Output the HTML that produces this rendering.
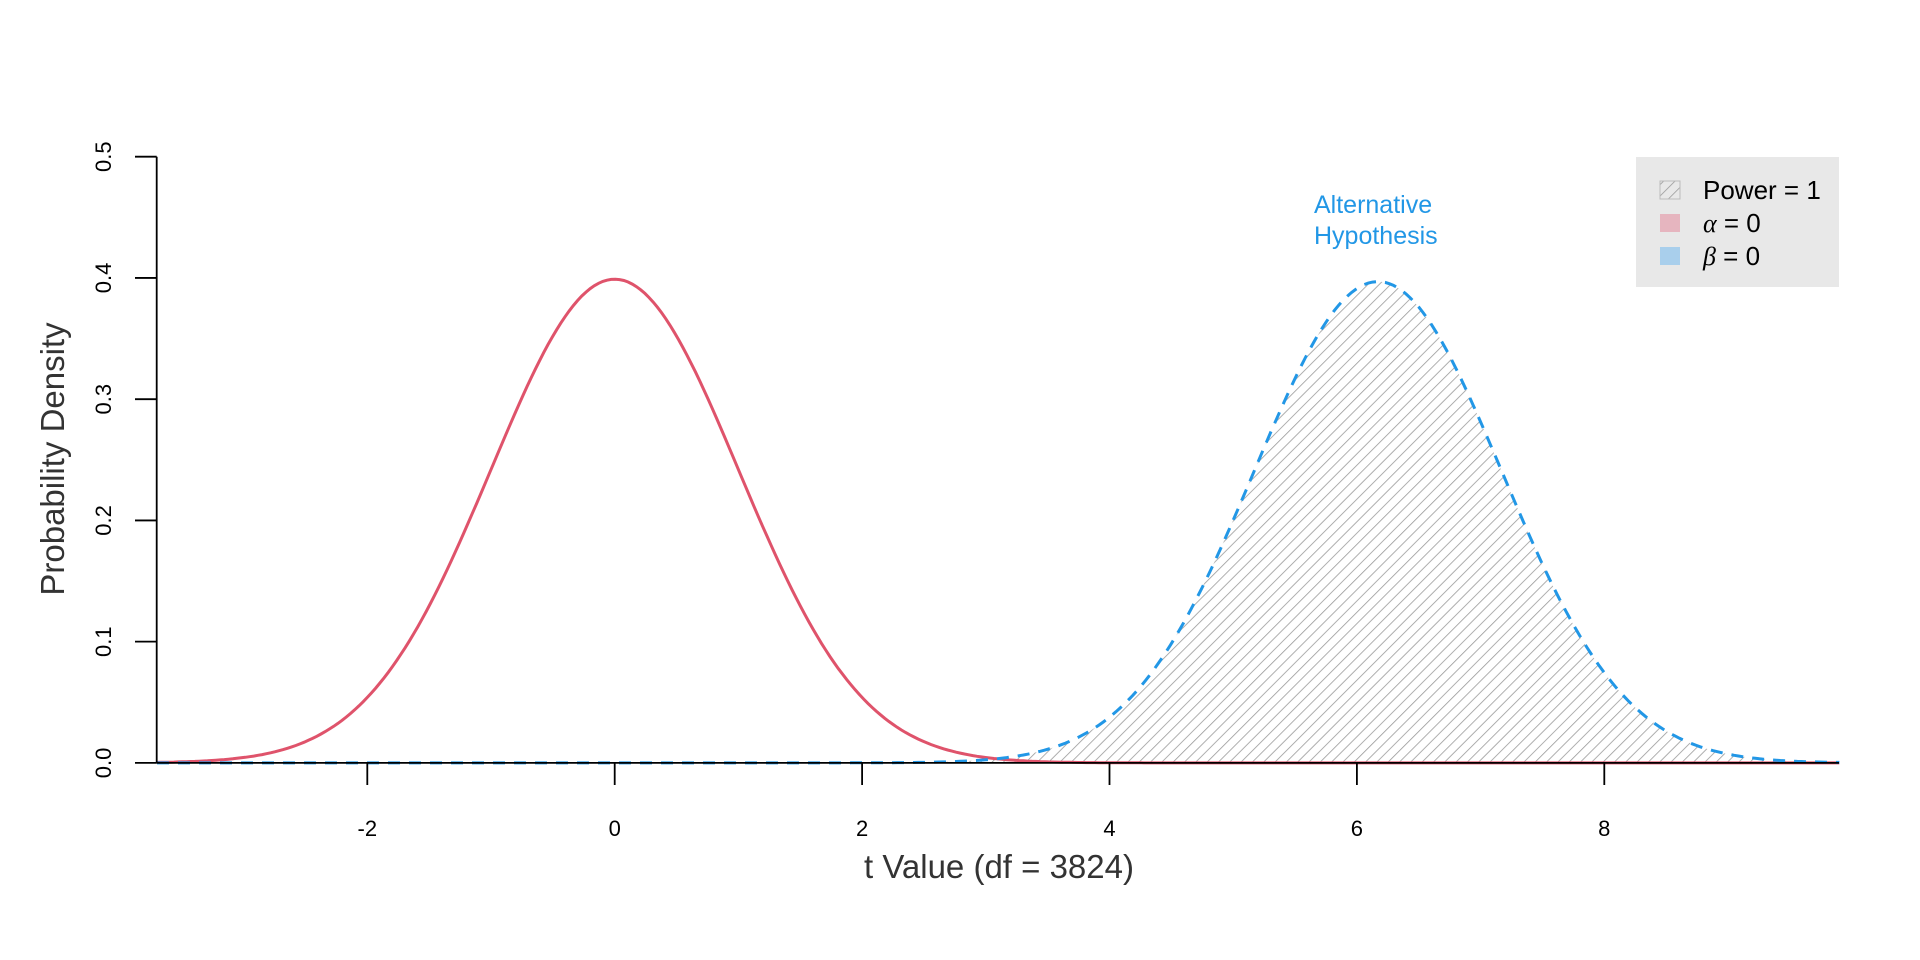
<!DOCTYPE html>
<html><head><meta charset="utf-8"><style>
html,body{margin:0;padding:0;background:#fff;}
svg{display:block;font-family:"Liberation Sans",sans-serif;}
</style></head><body>
<svg id="s" width="1920" height="960" viewBox="0 0 1920 960" xmlns="http://www.w3.org/2000/svg">
<defs>
<pattern id="h" patternUnits="userSpaceOnUse" width="8" height="8" patternTransform="rotate(45)">
<line x1="0" y1="0" x2="0" y2="8" stroke="#9a9a9a" stroke-width="1.6"/>
</pattern>
</defs>
<path id="hatch" fill="url(#h)" stroke="none"/>
<path id="red" fill="none" stroke="#df536b" stroke-width="3"/>
<path id="blue" fill="none" stroke="#2297e6" stroke-width="3" stroke-dasharray="12,9"/>
<g stroke="#000" stroke-width="1.8" fill="none">
<line x1="156.7" y1="156.7" x2="156.7" y2="762.9"/>
<line x1="156.7" y1="762.9" x2="1839" y2="762.9"/>
</g>
<g id="ticks" stroke="#000" stroke-width="1.8"></g>
<g id="labels" font-size="22" fill="#000"></g>
<text x="999" y="878" font-size="33" fill="#333" text-anchor="middle">t Value (df = 3824)</text>
<text transform="translate(64,459) rotate(-90)" font-size="33" fill="#333" text-anchor="middle">Probability Density</text>
<text x="1314" y="213" font-size="25" fill="#2297e6">Alternative</text>
<text x="1314" y="244" font-size="25" fill="#2297e6">Hypothesis</text>
<rect x="1636" y="157" width="203" height="130" fill="#e8e8e8"/>
<rect x="1660" y="181" width="20" height="18" fill="url(#h)" stroke="#bbb" stroke-width="1"/>
<rect x="1660" y="214" width="20" height="18" fill="#e6b5bf"/>
<rect x="1660" y="247" width="20" height="18" fill="#a9cfec"/>
<text x="1703" y="199" font-size="26">Power = 1</text>
<text x="1703" y="232" font-size="26"><tspan font-style="italic" font-family="Liberation Serif">α</tspan> = 0</text>
<text x="1703" y="265" font-size="26"><tspan font-style="italic" font-family="Liberation Serif">β</tspan> = 0</text>
</svg>
<script>
var X0=614.7,SX=123.7,Y0=762.9,SY=1212.4;
function px(t){return X0+t*SX}function py(d){return Y0-d*SY}
function n(t,m){return Math.exp(-(t-m)*(t-m)/2)/Math.sqrt(2*Math.PI)}
var tmin=-3.7,tmax=9.9,r="",b="",hp="";
for(var i=0;i<=400;i++){var t=tmin+(tmax-tmin)*i/400;
r+=(i?"L":"M")+px(t).toFixed(1)+","+py(n(t,0)).toFixed(1);
b+=(i?"L":"M")+px(t).toFixed(1)+","+py(n(t,6.17)*0.995).toFixed(1);}
var c=1.96;hp="M"+px(c)+","+Y0;
for(var i=0;i<=300;i++){var t=c+(tmax-c)*i/300;hp+="L"+px(t).toFixed(1)+","+py(n(t,6.17)*0.995).toFixed(1);}
hp+="L"+px(tmax)+","+Y0+"Z";
document.getElementById("red").setAttribute("d",r);
document.getElementById("blue").setAttribute("d",b);
document.getElementById("hatch").setAttribute("d",hp);
var tk="",lb="";
[-2,0,2,4,6,8].forEach(function(v){var x=px(v);tk+='<line x1="'+x+'" y1="762.9" x2="'+x+'" y2="785"/>';
lb+='<text x="'+x+'" y="836" text-anchor="middle">'+v+'</text>';});
[0,0.1,0.2,0.3,0.4,0.5].forEach(function(v){var y=py(v);tk+='<line x1="135" y1="'+y+'" x2="156.7" y2="'+y+'"/>';
lb+='<text transform="translate(111,'+y+') rotate(-90)" text-anchor="middle">'+v.toFixed(1)+'</text>';});
document.getElementById("ticks").innerHTML=tk;
document.getElementById("labels").innerHTML=lb;
</script>
</body></html>
